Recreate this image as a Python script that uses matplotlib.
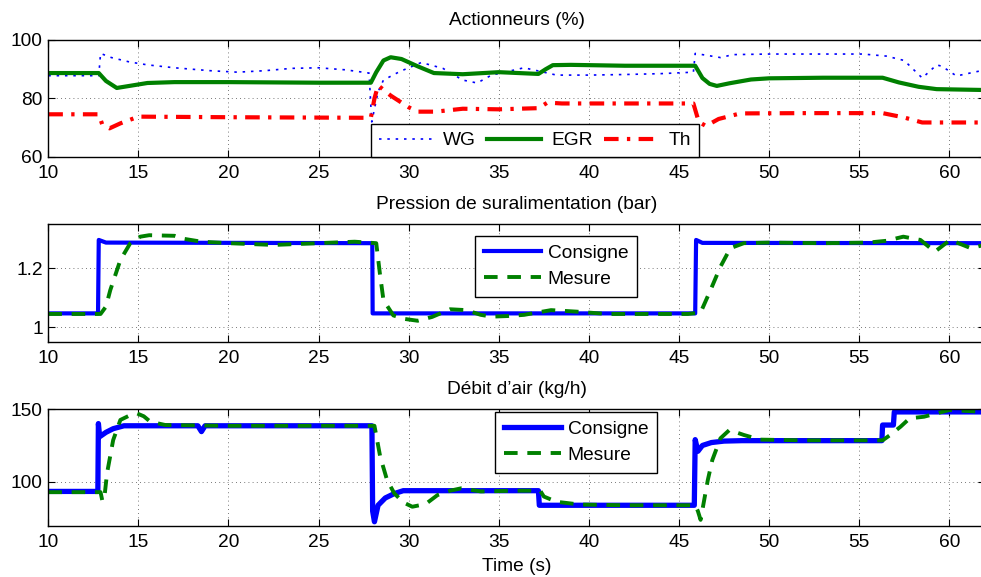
import matplotlib
matplotlib.use("Agg")
import matplotlib.pyplot as plt

plt.rcParams['font.family'] = ['Liberation Sans', 'DejaVu Sans']
FS = 13.8

# ---- Top panel: Actionneurs (%) ----
t_wg = [10, 12.8, 12.9, 13.5, 14.5, 15.5, 17, 19, 20.5, 22, 23.5, 25, 26.5, 27.8, 27.95,
        28.3, 28.6, 29.5, 30.7, 31.9, 33.0, 33.8, 34.6, 36.4, 37.5, 38.2, 40, 42, 44, 45.8,
        45.9, 46.5, 47.3, 48, 50, 53, 55.2, 56.5, 57.5, 58.5, 59.3, 59.6, 60.4, 61, 62]
wg = [87.8, 87.8, 95.4, 94, 92.5, 91.5, 90.5, 89.5, 89, 89.5, 90.3, 90.5, 89.8, 88.7, 72,
      82.3, 86.3, 89.2, 92.3, 90.3, 86.3, 85.3, 88, 90.5, 89, 88, 88, 88.2, 88.5, 89,
      95.4, 94.8, 94, 95, 95.2, 95.2, 95.2, 94.5, 93, 87, 91.5, 91, 87.7, 88.5, 89.8]

t_egr = [10, 12.8, 13.2, 13.8, 14.5, 15.5, 17, 20, 25, 27.9, 28.2, 28.6, 29.0, 29.6, 30.5,
         31.4, 33, 35, 37.2, 37.6, 38.0, 39, 42, 45.9, 46.3, 46.7, 47.1, 47.8, 49, 50, 53,
         56.3, 57.2, 58.3, 59.3, 62]
egr = [88.7, 88.7, 86, 83.6, 84.3, 85.3, 85.6, 85.6, 85.4, 85.4, 89, 93, 94.1, 93.5, 91,
       88.7, 88.3, 89, 88.4, 90, 91.4, 91.5, 91.2, 91.2, 87, 85, 84.3, 85.2, 86.5, 86.9, 87.1,
       87.1, 85.5, 84, 83.2, 82.9]

t_th = [10, 12.8, 13.0, 13.4, 14.0, 15.0, 20, 27.9, 28.1, 28.3, 29, 30, 30.5, 31.5, 33, 35,
        37.2, 37.7, 38.5, 42, 45.8, 46.1, 46.5, 47.2, 48.4, 52, 56.3, 57.5, 58.5, 62]
th = [74.6, 74.6, 71, 69.8, 71.5, 73.8, 73.6, 73.4, 80, 84.5, 81, 77, 75.5, 75.5, 76.5, 76.3,
      76.7, 78.6, 78.3, 78.3, 78.3, 72, 70.6, 73, 74.9, 75, 75, 73.5, 71.8, 71.8]

# ---- Middle panel: Pression de suralimentation (bar) ----
t_p_cons = [10, 12.76, 12.8, 13.2, 27.98, 28.0, 45.9, 45.95, 46.3, 62]
p_cons = [1.047, 1.047, 1.296, 1.287, 1.285, 1.047, 1.047, 1.296, 1.286, 1.285]

t_p_mes = [10, 12.9, 13.2, 13.44, 14.0, 14.55, 15.1, 15.6, 17, 17.5, 18.5, 20, 22.5, 25, 27,
           28.2, 28.4, 28.6, 29.15, 29.8, 30.5, 31.3, 32.3, 33.2, 34, 34.6, 35.5, 36.4, 37.9,
           39.3, 41, 43, 45.5, 46.2, 46.75, 47.3, 47.85, 48.6, 50, 53, 55.5, 56.5, 57.45, 58.4,
           59.2, 60.05, 61.2, 62]
p_mes = [1.045, 1.045, 1.07, 1.126, 1.228, 1.285, 1.307, 1.312, 1.31, 1.30, 1.29, 1.285,
         1.279, 1.285, 1.29, 1.285, 1.183, 1.092, 1.04, 1.028, 1.022, 1.035, 1.061, 1.058,
         1.042, 1.036, 1.038, 1.042, 1.058, 1.053, 1.045, 1.045, 1.045, 1.05, 1.126, 1.205,
         1.268, 1.285, 1.287, 1.285, 1.287, 1.293, 1.307, 1.296, 1.256, 1.296, 1.268, 1.28]

# ---- Bottom panel: Débit d'air (kg/h) ----
t_d_cons = [10, 12.75, 12.78, 12.85, 13.2, 13.6, 14.2, 18.3, 18.5, 18.7, 27.96, 28.0, 28.1,
            28.3, 28.7, 29.2, 29.7, 37.2, 37.25, 45.85, 45.9, 46.05, 46.3, 46.8, 47.5, 48.5,
            56.26, 56.3, 56.9, 56.95, 62]
d_cons = [93.5, 93.5, 140, 131, 134, 136.5, 138.5, 138.5, 134.5, 138.5, 138.5, 80, 72.7, 84,
          89, 92, 94, 94, 84, 84, 129, 121, 125, 127, 128, 128.3, 128.3, 139, 139, 148, 148]

t_d_mes = [10, 12.9, 13.0, 13.1, 13.26, 13.6, 14.0, 14.5, 14.92, 15.3, 15.66, 16.5, 20, 25,
           28.1, 28.42, 28.8, 29.2, 29.7, 30.2, 30.6, 31.0, 31.6, 32.3, 32.9, 34, 36, 37.3,
           37.5, 38.2, 39.5, 42, 45.9, 46.05, 46.2, 46.6, 46.85, 47.3, 47.8, 48.6, 49.5, 52,
           56.3, 56.7, 57.3, 57.8, 58.6, 59.3, 60, 62]
d_mes = [93, 93, 87, 88, 106, 128.7, 142.5, 145.5, 147, 145, 141.3, 139, 138.5, 138.5, 138.5,
         117.3, 101.3, 92.2, 86, 83, 84, 85.4, 91, 94, 95.6, 93.5, 94, 94, 90, 86.4, 84.5, 84,
         84, 80, 74, 101.3, 115, 129.9, 135.6, 132.2, 129, 128.5, 128.5, 132, 137.9, 143.6,
         144.7, 147, 149.3, 148]

titles = ["Actionneurs (%)", "Pression de suralimentation (bar)", "D\u00e9bit d\u2019air (kg/h)"]
xticks = [10, 15, 20, 25, 30, 35, 40, 45, 50, 55, 60]

BLUE = (0, 0, 1)
GREEN = (0, 0.5, 0)
RED = (1, 0, 0)

fig = plt.figure(figsize=(9.81, 5.77), dpi=100)
W, H = 981, 577
left_px, right_px = 48.3, 985.3

def make_ax(top_px, bot_px):
    return fig.add_axes([left_px / W, 1 - bot_px / H, (right_px - left_px) / W, (bot_px - top_px) / H])

ax1 = make_ax(40, 157)
ax2 = make_ax(224, 342)
ax3 = make_ax(409, 525.7)

for ax in (ax1, ax2, ax3):
    ax.set_xlim(10, 62)
    ax.set_xticks(xticks)
    ax.grid(True, color='black', linestyle=(0, (1, 4)), linewidth=0.6, alpha=0.7)
    ax.tick_params(direction='in', top=True, right=True, labelsize=FS, length=5, width=0.8)
    ax.tick_params(axis='x', pad=6)
    ax.tick_params(axis='y', pad=4)
    for s in ax.spines.values():
        s.set_linewidth(1.0)

legkw = dict(fontsize=FS, fancybox=False, edgecolor='black', framealpha=1, borderaxespad=0)

# top
ax1.plot(t_wg, wg, color=BLUE, linestyle=(0, (1.5, 3.5)), linewidth=1.2, label='WG')
ax1.plot(t_egr, egr, color=GREEN, linestyle='-', linewidth=3, label='EGR')
ax1.plot(t_th, th, color=RED, linestyle=(0, (3.5, 2, 0.8, 2)), linewidth=3, label='Th')
ax1.set_ylim(60, 100)
ax1.set_yticks([60, 80, 100])
ax1.set_title(titles[0], fontsize=FS, pad=11)
leg1 = ax1.legend(loc='lower left', bbox_to_anchor=((371 - left_px) / (right_px - left_px), 0),
                  ncol=3, handlelength=2.8, columnspacing=0.6, handletextpad=0.55,
                  borderpad=0.4, **legkw)
leg1.get_frame().set_linewidth(1.0)

# middle
ax2.plot(t_p_cons, p_cons, color=BLUE, linewidth=3, label='Consigne')
ax2.plot(t_p_mes, p_mes, color=GREEN, linestyle=(0, (3.5, 2.5)), linewidth=2.8, label='Mesure')
ax2.set_ylim(0.95, 1.35)
ax2.set_yticks([1.0, 1.2])
ax2.set_yticklabels(['1', '1.2'])
ax2.set_title(titles[1], fontsize=FS, pad=11)
leg2 = ax2.legend(loc='upper left', bbox_to_anchor=((475 - left_px) / (right_px - left_px), (342 - 236) / 118),
                  handlelength=3.0, handletextpad=0.35, labelspacing=0.45, borderpad=0.45, **legkw)
leg2.get_frame().set_linewidth(1.0)

# bottom
ax3.plot(t_d_cons, d_cons, color=BLUE, linewidth=3.8, label='Consigne')
ax3.plot(t_d_mes, d_mes, color=GREEN, linestyle=(0, (3.5, 2.5)), linewidth=2.8, label='Mesure')
ax3.set_ylim(70, 150)
ax3.set_yticks([100, 150])
ax3.set_title(titles[2], fontsize=FS, pad=11)
ax3.set_xlabel("Time (s)", fontsize=FS, labelpad=5)
leg3 = ax3.legend(loc='upper left', bbox_to_anchor=((495 - left_px) / (right_px - left_px), (525.7 - 412) / 116.7),
                  handlelength=3.0, handletextpad=0.35, labelspacing=0.45, borderpad=0.45, **legkw)
leg3.get_frame().set_linewidth(1.0)

fig.savefig("out.png", dpi=100)
